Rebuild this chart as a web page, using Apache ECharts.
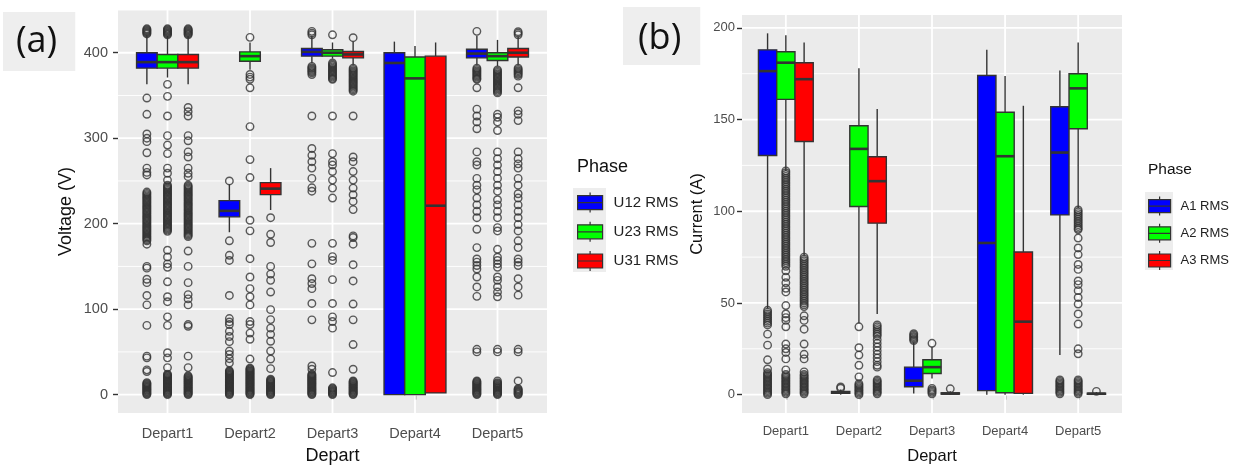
<!DOCTYPE html>
<html><head><meta charset="utf-8">
<script src="https://cdn.jsdelivr.net/npm/echarts@6/dist/echarts.min.js"></script>
<style>html,body{margin:0;padding:0;background:#fff;}#c{width:1237px;height:470px;}</style>
</head><body><div id="c"></div>
<script>
// ---------------- DATA ----------------
const departs = ['Depart1', 'Depart2', 'Depart3', 'Depart4', 'Depart5'];
const voltagePhases = ['U12 RMS', 'U23 RMS', 'U31 RMS'];
const currentPhases = ['A1 RMS', 'A2 RMS', 'A3 RMS'];
const voltageTicks = [0, 100, 200, 300, 400];
const currentTicks = [0, 50, 100, 150, 200];

// box stats per depart: [lower whisker, Q1, median, Q3, upper whisker]
const u12Box = [[363, 382, 389, 400, 421], [190, 208, 215, 227, 246], [388, 396, 401, 405, 420], [0, 0, 388, 400, 413], [386, 394, 399, 404, 420]];
const u23Box = [[371, 382, 389, 398, 420], [380, 390, 396, 401, 412], [393, 396, 400, 403.5, 412], [0, 0, 370, 395, 408], [384, 391, 396, 400, 415]];
const u31Box = [[363, 382, 389, 398, 420], [216, 234, 241, 248, 265], [386, 394, 398, 401.5, 413], [2, 2, 221, 396, 412], [386, 395, 400, 405, 419]];

const u12Outliers = [
  [422, 423, 424, 425, 426, 427, 428, 347, 328, 305, 300, 296, 283, 265, 260, 257,
   237, 235.5, 234, 232.5, 231, 229.5, 228, 226.5, 225, 223.5, 222, 220.5, 219, 217.5, 216, 214.5, 213, 211.5, 210, 208.5, 207, 205.5, 204, 202.5, 201, 199.5, 198, 196.5, 195, 193.5, 192, 190.5, 189, 187.5, 186, 184.5, 183, 181.5, 180,
   176, 150, 148, 135, 131, 116, 105, 81, 45, 43, 29, 27, 14, 13, 12, 11, 10, 9, 8, 7, 6, 5, 4, 3, 2, 1, 0],
  [250, 180, 163, 157, 116, 89, 85, 82, 74, 68, 62, 51, 47, 42, 37, 28, 27, 26, 25, 24, 23, 22, 21, 20, 19, 18, 17, 16, 15, 14, 13, 12, 11, 10, 9, 8, 7, 6, 5, 4, 3, 2, 1, 0],
  [421, 423, 425, 384, 382.5, 381, 379.5, 378, 376.5, 374.5, 326, 288, 280, 272.5, 265, 253, 242, 238, 177, 153, 135.6, 130, 124, 106.7, 87.5, 33.5, 29.7, 24, 23, 22, 21, 20, 19, 18, 17, 16, 15, 14, 13, 12, 11, 10, 9, 8, 7, 6, 5, 4, 3, 2, 1, 0],
  [],
  [425, 382, 380.5, 379, 377.5, 376, 374.5, 373, 371.5, 370, 369, 359, 334, 326, 319, 311, 284, 272.5, 268.6, 253, 245, 239.6, 230, 222, 214.5, 207, 193.4, 172, 158.7, 155, 151, 147, 137.6, 126, 115, 53, 50, 16, 15, 14, 13, 12, 11, 10, 9, 8, 7, 6, 5, 4, 3, 2, 1, 0]
];
const u23Outliers = [
  [421, 422, 423, 424, 425, 426, 427, 428, 363, 349, 326, 303, 292, 282, 265, 259, 251,
   245, 243.5, 242, 240.5, 239, 237.5, 236, 234.5, 233, 231.5, 230, 228.5, 227, 225.5, 224, 222.5, 221, 219.5, 218, 216.5, 215, 213.5, 212, 210.5, 209, 207.5, 206, 204.5, 203, 201.5, 200, 198.5, 197, 195.5, 194, 192.5, 191,
   169, 161, 153, 149, 132, 114.5, 108.7, 91, 81, 49, 43, 31.6, 24, 23, 22, 21, 20, 19, 18, 17, 16, 15, 14, 13, 12, 11, 10, 9, 8, 7, 6, 5, 4, 3, 2, 1, 0],
  [418, 374.6, 371.5, 369, 359, 313.6, 275, 254, 204, 191.6, 159, 137.6, 124, 114.5, 105, 85.5, 82, 72, 64.7, 41.6, 31, 30, 29, 28, 27, 26, 25, 24, 23, 22, 21, 20, 19, 18, 17, 16, 15, 14, 13, 12, 11, 10, 9, 8, 7, 6, 5, 4, 3, 2, 1, 0],
  [421, 388, 386.5, 385, 383.5, 382, 380.5, 379, 377.5, 376, 374.5, 373, 371.5, 370, 369, 326, 282, 272.5, 268.6, 261, 251, 241.6, 230, 177, 161.5, 157, 134.5, 106.7, 91, 85.5, 77.8, 25.8, 8, 7, 6, 5, 4, 3, 2, 1, 0],
  [],
  [380, 378.5, 377, 375.5, 374, 372.5, 371, 369.5, 368, 366.5, 365, 363.5, 362, 360.5, 359, 357.5, 356, 354.5, 353, 328, 324.5, 319, 309, 284, 276, 268.6, 261, 253, 245, 238, 228, 222, 214.5, 207, 195.4, 191.5, 170, 160.7, 157, 153, 149, 137.6, 133.7, 126, 120, 114.5, 53, 50, 16, 14, 13, 12, 11, 10, 9, 8, 7, 6, 5, 4, 3, 2, 1, 0]
];
const u31Outliers = [
  [421, 422, 423, 424, 425, 426, 427, 428, 336, 331, 326, 303, 297, 284, 278, 265, 259, 255,
   245, 243.5, 242, 240.5, 239, 237.5, 236, 234.5, 233, 231.5, 230, 228.5, 227, 225.5, 224, 222.5, 221, 219.5, 218, 216.5, 215, 213.5, 212, 210.5, 209, 207.5, 206, 204.5, 203, 201.5, 200, 198.5, 197, 195.5, 194, 192.5, 191, 189.5, 188, 186.5, 185,
   168, 150, 131, 117, 112, 105, 82, 80, 45, 31.6, 22, 21, 20, 19, 18, 17, 16, 15, 14, 13, 12, 11, 10, 9, 8, 7, 6, 5, 4, 3, 2, 1, 0],
  [207, 187.6, 178, 150, 141, 133.7, 120, 99.4, 87.8, 77.8, 70.5, 62.4, 51, 41.6, 30.4, 18, 17, 16, 15, 14, 13, 12, 11, 10, 9, 8, 7, 6, 5, 4, 3, 2, 1, 0],
  [417.6, 382, 380.5, 379, 377.5, 376, 374.5, 373, 371.5, 370, 368.5, 367, 365.5, 364, 362.5, 361, 359.5, 358, 356.5, 355, 326, 278, 272.5, 261, 251, 241.6, 233.9, 226, 216.5, 185.7, 183.8, 176, 152, 133, 106, 87.5, 58.6, 29.7, 16, 15, 14, 13, 12, 11, 10, 9, 8, 7, 6, 5, 4, 3, 2, 1, 0],
  [],
  [421, 423, 424.6, 382, 380.5, 379, 377.5, 376, 374.5, 372.6, 359, 332, 328, 320.6, 284, 276, 270, 265, 253, 245, 235, 230, 222, 214.5, 207, 199, 191.5, 180, 172, 158.7, 155, 151, 135.6, 126, 116.4, 53, 50, 16, 7, 6, 5, 4, 3, 2, 1, 0]
];

const a1Box = [[47, 130.4, 176.4, 188, 197], [0, 0.8, 1.2, 1.8, 2.8], [0.7, 4.3, 7.6, 15, 28.6], [0, 2.2, 82.7, 174, 188], [21.6, 98, 132, 157, 176.8]];
const a2Box = [[122, 161, 181, 187, 196], [39, 102.6, 134, 146.6, 178], [8.8, 11.5, 15, 19, 26], [0, 1, 130, 154, 173.7], [101.6, 145, 167, 175, 192]];
const a3Box = [[75.7, 138, 172, 181, 192], [44, 93.5, 116.4, 129.7, 155.7], [0, 0.3, 0.6, 1, 1.8], [0, 0.7, 39.8, 77.8, 157.5], [0, 0.2, 0.5, 0.8, 1.4]];

const a1Outliers = [
  [46, 45, 44, 43, 42, 41, 40, 39, 38, 33, 27, 19, 14, 12, 11.25, 10.5, 9.75, 9, 8.25, 7.5, 6.75, 6, 5.25, 4.5, 3.75, 3, 2.25, 1.5, 0.75, 0],
  [3.5, 4.2],
  [29.5, 30.25, 31, 31.75, 32.5, 33.25],
  [],
  [8, 7.25, 6.5, 5.75, 5, 4.25, 3.5, 2.75, 2, 1.25, 0.5]
];
const a2Outliers = [
  [122, 121, 120, 119, 118, 117, 116, 115, 114, 113, 112, 111, 110, 109, 108, 107, 106, 105, 104, 103, 102, 101, 100, 99, 98, 97, 96, 95, 94, 93, 92, 91, 90, 89, 88, 87, 86, 85, 84, 83, 82, 81, 80, 79, 78, 77, 76, 75, 74, 73, 72, 71, 70,
   67.5, 64, 61, 58, 56, 48.6, 44, 42, 40.5, 37, 27.6, 25, 23, 19.5, 13.5, 11, 10.25, 9.5, 8.75, 8, 7.25, 6.5, 5.75, 5, 4.25, 3.5, 2.75, 2, 1.25, 0.5],
  [37, 25.6, 21.6, 16, 9.7, 6, 5.25, 4.5, 3.75, 3, 2.25, 1.5, 0.75, 0],
  [28, 3.4, 2.6, 2, 1.25, 0.5],
  [],
  [100.7, 99.7, 98.7, 97.7, 96.7, 95.7, 94.7, 93.7, 92.7, 91.7, 90.7, 90, 85.4, 80, 76.4, 71, 68.3, 62, 60, 56.7, 53, 49.4, 44, 38.5, 25, 22.3, 8, 7.25, 6.5, 5.75, 5, 4.25, 3.5, 2.75, 2, 1.25, 0.5]
];
const a3Outliers = [
  [75, 74, 73, 72, 71, 70, 69, 68, 67, 66, 65, 64, 63, 62, 61, 60, 59, 58, 57, 56, 55, 54, 53, 52, 51, 50, 49, 48, 43, 40.5, 35.7, 27.6, 22, 19.5, 12.4, 11, 10.25, 9.5, 8.75, 8, 7.25, 6.5, 5.75, 5, 4.25, 3.5, 2.75, 2, 1.25, 0.5],
  [38, 37, 36, 35, 34, 33, 32, 30, 28, 26, 24, 22, 20, 18, 16, 15, 8, 7.25, 6.5, 5.75, 5, 4.25, 3.5, 2.75, 2, 1.25, 0.5],
  [3.2],
  [],
  [1.8]
];

// ---------------- STYLE ----------------
const phaseColors = ['#0000FF', '#00FF00', '#FF0000'];
const FONT = '"Liberation Sans", Arial, sans-serif';
const DODGE = 0.25;
const catPositions = departs.map((d, i) => i + 1);

function boxRenderer(offset, color) {
  return function (params, api) {
    const xc = api.value(0) + offset;
    const halfW = api.size([DODGE, 0])[0] / 2;
    const pMin = api.coord([xc, api.value(1)]);
    const pQ1 = api.coord([xc, api.value(2)]);
    const pMed = api.coord([xc, api.value(3)]);
    const pQ3 = api.coord([xc, api.value(4)]);
    const pMax = api.coord([xc, api.value(5)]);
    const stroke = '#333333';
    return {
      type: 'group',
      children: [
        { type: 'line', shape: { x1: pMin[0], y1: pMin[1], x2: pQ1[0], y2: pQ1[1] }, style: { stroke, lineWidth: 1.4 } },
        { type: 'line', shape: { x1: pQ3[0], y1: pQ3[1], x2: pMax[0], y2: pMax[1] }, style: { stroke, lineWidth: 1.4 } },
        { type: 'rect', shape: { x: pQ3[0] - halfW, y: pQ3[1], width: 2 * halfW, height: Math.max(pQ1[1] - pQ3[1], 0.5) }, style: { fill: color, stroke, lineWidth: 1.4 } },
        { type: 'line', shape: { x1: pMed[0] - halfW, y1: pMed[1], x2: pMed[0] + halfW, y2: pMed[1] }, style: { stroke, lineWidth: 2.6 } }
      ]
    };
  };
}

function gridRenderer(xMin, xMax, yMin, yMax) {
  return function (params, api) {
    const t = api.value(0), v = api.value(1);
    let p1, p2;
    if (t < 2) { p1 = api.coord([xMin, v]); p2 = api.coord([xMax, v]); }
    else { p1 = api.coord([v, yMin]); p2 = api.coord([v, yMax]); }
    return { type: 'line', shape: { x1: p1[0], y1: p1[1], x2: p2[0], y2: p2[1] }, style: { stroke: '#FFFFFF', lineWidth: t === 1 ? 0.9 : 1.8 } };
  };
}

function gridData(ticks, yMax) {
  const step = ticks[1] - ticks[0];
  const out = [];
  ticks.forEach(v => out.push([0, v]));
  ticks.forEach(v => { if (v + step / 2 <= yMax) out.push([1, v + step / 2]); });
  catPositions.forEach(v => out.push([2, v]));
  return out;
}

const panels = [
  { ticks: voltageTicks, yMin: -21.5, yMax: 450, phases: voltagePhases, boxes: [u12Box, u23Box, u31Box], outs: [u12Outliers, u23Outliers, u31Outliers] },
  { ticks: currentTicks, yMin: -10, yMax: 207, phases: currentPhases, boxes: [a1Box, a2Box, a3Box], outs: [a1Outliers, a2Outliers, a3Outliers] }
];
const X_MIN = 0.4, X_MAX = 5.6;

const series = [];
panels.forEach((p, pi) => {
  series.push({
    type: 'custom', xAxisIndex: pi, yAxisIndex: pi, silent: true, z: 1,
    renderItem: gridRenderer(X_MIN, X_MAX, p.yMin, p.yMax),
    data: gridData(p.ticks, p.yMax)
  });
  p.phases.forEach((name, k) => {
    const offset = (k - 1) * DODGE;
    series.push({
      type: 'custom', name, xAxisIndex: pi, yAxisIndex: pi, z: 3,
      itemStyle: { color: phaseColors[k] },
      encode: { x: 0, y: [1, 2, 3, 4, 5] },
      renderItem: boxRenderer(offset, phaseColors[k]),
      data: p.boxes[k].map((b, i) => [catPositions[i]].concat(b))
    });
  });
  p.phases.forEach((name, k) => {
    const offset = (k - 1) * DODGE;
    const pts = [];
    p.outs[k].forEach((arr, i) => arr.forEach(v => pts.push([catPositions[i] + offset, v])));
    series.push({
      type: 'scatter', name: name + ' outliers', xAxisIndex: pi, yAxisIndex: pi, z: 4, silent: true,
      symbol: 'circle', symbolSize: 7.5,
      itemStyle: { color: 'rgba(0,0,0,0)', borderColor: '#333333', borderWidth: 1.4 },
      data: pts
    });
  });
});

const gridsPx = [
  { left: 118, top: 10, width: 429, height: 408 },
  { left: 742, top: 15, width: 380, height: 402 }
];
const tickFont = [14.5, 13];
const nameFont = [18, 16.5];

const xAxes = panels.map((p, pi) => ({
  type: 'value', gridIndex: pi, min: X_MIN, max: X_MAX,
  axisLine: { show: false }, splitLine: { show: false },
  axisTick: { show: true, customValues: catPositions, length: 5, lineStyle: { color: '#333333', width: 1.4 } },
  axisLabel: { customValues: catPositions, formatter: v => departs[Math.round(v) - 1], color: '#4D4D4D', fontSize: tickFont[pi], fontFamily: FONT, margin: pi === 0 ? 13 : 12 },
  name: 'Depart', nameLocation: 'middle', nameGap: pi === 0 ? 34 : 35,
  nameTextStyle: { fontSize: nameFont[pi], color: '#111', fontFamily: FONT }
}));
const yNames = ['Voltage (V)', 'Current (A)'];
const yAxes = panels.map((p, pi) => ({
  type: 'value', gridIndex: pi, min: p.yMin, max: p.yMax,
  axisLine: { show: false }, splitLine: { show: false },
  axisTick: { show: true, customValues: p.ticks, length: 5, lineStyle: { color: '#333333', width: 1.4 } },
  axisLabel: { customValues: p.ticks, color: '#4D4D4D', fontSize: tickFont[pi], fontFamily: FONT, margin: pi === 0 ? 10 : 7 },
  name: yNames[pi], nameLocation: 'middle', nameGap: pi === 0 ? 43 : 36,
  nameTextStyle: { fontSize: nameFont[pi], color: '#111', fontFamily: FONT }
}));

const legendIconA = 'path://M0,3 L25,3 L25,17 L0,17 Z M0,10 L25,10 M12.5,0 L12.5,3 M12.5,17 L12.5,20';
const legendIconB = 'path://M0,3 L22,3 L22,16 L0,16 Z M0,9.5 L22,9.5 M11,0 L11,3 M11,16 L11,19';

const option = {
  animation: false,
  backgroundColor: '#FFFFFF',
  textStyle: { fontFamily: FONT },
  grid: gridsPx.map(g => Object.assign({ show: true, backgroundColor: '#EBEBEB', borderWidth: 0, containLabel: false }, g)),
  xAxis: xAxes,
  yAxis: yAxes,
  title: [
    { text: '(a)', left: 3, top: 12, padding: [12, 18, 11, 13], backgroundColor: '#EEEEEE', textStyle: { fontSize: 36, fontWeight: 'normal', color: '#111', fontFamily: '"Open Sans", sans-serif' } },
    { text: '(b)', left: 623, top: 7, padding: [14, 19, 8, 15], backgroundColor: '#EEEEEE', textStyle: { fontSize: 36, fontWeight: 'normal', color: '#111', fontFamily: '"Open Sans", sans-serif' } },
    { text: 'Phase', left: 577, top: 158, padding: 0, textStyle: { fontSize: 18, fontWeight: 'normal', color: '#111', fontFamily: FONT } },
    { text: 'Phase', left: 1148, top: 162, padding: 0, textStyle: { fontSize: 15.5, fontWeight: 'normal', color: '#111', fontFamily: FONT } }
  ],
  graphic: [
    { type: 'rect', left: 573, top: 188, shape: { width: 33, height: 84 }, style: { fill: '#EDEDED' }, z: -1, silent: true },
    { type: 'rect', left: 1145, top: 192, shape: { width: 28, height: 78 }, style: { fill: '#EDEDED' }, z: -1, silent: true }
  ],
  legend: [
    { data: voltagePhases, orient: 'vertical', left: 577, top: 192, padding: 0, icon: legendIconA, itemWidth: 25, itemHeight: 20, itemGap: 8, selectedMode: false,
      itemStyle: { borderColor: '#333333', borderWidth: 1.2 },
      textStyle: { fontSize: 15, color: '#222', fontFamily: FONT, padding: [0, 0, 0, 6] } },
    { data: currentPhases, orient: 'vertical', left: 1148, top: 196, padding: 0, icon: legendIconB, itemWidth: 22, itemHeight: 19, itemGap: 7, selectedMode: false,
      itemStyle: { borderColor: '#333333', borderWidth: 1.2 },
      textStyle: { fontSize: 13, color: '#222', fontFamily: FONT, padding: [0, 0, 0, 5] } }
  ],
  series
};

const chart = echarts.init(document.getElementById('c'), null, { renderer: 'canvas' });
chart.setOption(option);
</script>
</body></html>
